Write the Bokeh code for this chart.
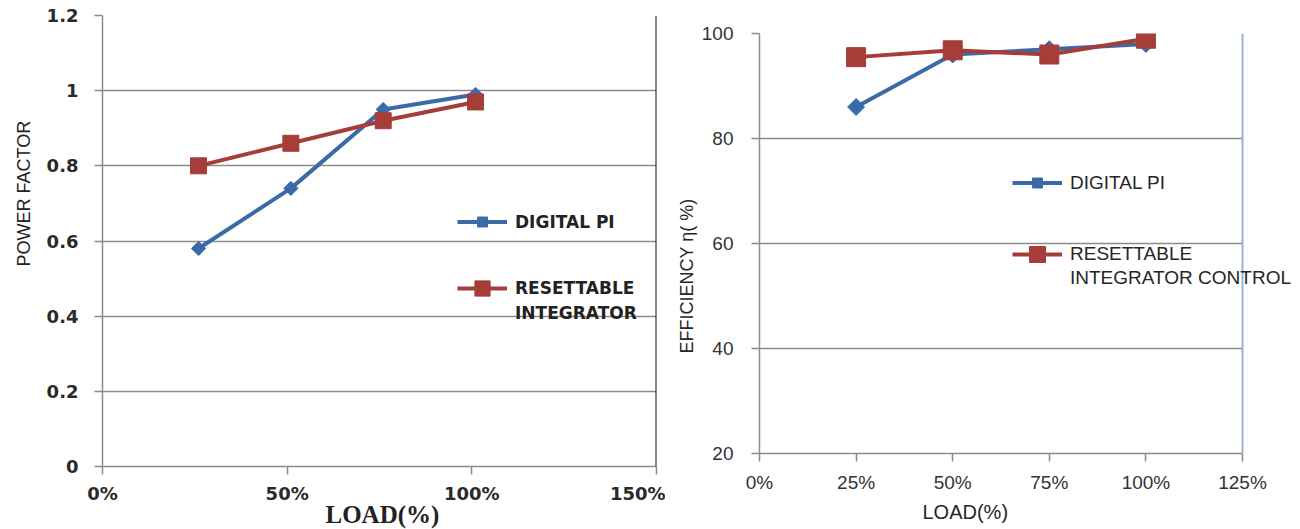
from bokeh.plotting import figure
from bokeh.models import FixedTicker, Span, Legend, LegendItem, Title
from bokeh.embed import file_html
from bokeh.resources import INLINE
import math

# ---- Power factor versus load ----
pf_load = [26, 51, 76, 101]
pf_digital_pi = [0.58, 0.74, 0.95, 0.99]
pf_resettable = [0.80, 0.86, 0.92, 0.97]
pf_x_ticks = [0, 50, 100, 150]
pf_x_labels = ["0%", "50%", "100%", "150%"]
pf_y_ticks = [0, 0.2, 0.4, 0.6, 0.8, 1.0, 1.2]
pf_y_labels = ["0", "0.2", "0.4", "0.6", "0.8", "1", "1.2"]

# ---- Efficiency versus load ----
eff_load = [25, 50, 75, 100]
eff_digital_pi = [86, 96, 97, 98]
eff_resettable = [95.5, 96.8, 96.0, 99.0]
eff_x_ticks = [0, 25, 50, 75, 100, 125]
eff_x_labels = ["0%", "25%", "50%", "75%", "100%", "125%"]
eff_y_ticks = [20, 40, 60, 80, 100]
eff_y_labels = ["20", "40", "60", "80", "100"]

BLUE = "#3b6ba7"
RED = "#a53d38"
GRID = "#8c8c8c"


def style_axes(p, xt, xl, yt, yl, font, size, weight, color, xstand, ystand):
    p.xaxis.ticker = FixedTicker(ticks=xt)
    p.yaxis.ticker = FixedTicker(ticks=yt)
    p.xaxis.major_label_overrides = dict(zip(xt, xl))
    p.yaxis.major_label_overrides = dict(zip(yt, yl))
    for ax in (p.xaxis[0], p.yaxis[0]):
        ax.axis_line_color = GRID
        ax.axis_line_width = 1.5
        ax.major_tick_line_color = GRID
        ax.major_tick_line_width = 1.5
        ax.major_tick_out = 8
        ax.major_tick_in = 0
        ax.minor_tick_line_color = None
        ax.major_label_text_font = font
        ax.major_label_text_font_size = size
        ax.major_label_text_font_style = weight
        ax.major_label_text_color = color
    p.xaxis.major_label_standoff = xstand
    p.yaxis.major_label_standoff = ystand
    p.xgrid.grid_line_color = None
    p.ygrid.grid_line_color = GRID
    p.ygrid.grid_line_width = 1.5
    p.outline_line_color = None


def axis_title(text, font, size, weight, color, standoff, offset, valign="bottom"):
    # align="left" starts the text `offset` px from the panel's start
    return Title(text=text, align="left", offset=offset, standoff=standoff,
                 vertical_align=valign,
                 text_font=font, text_font_size=size, text_font_style=weight,
                 text_color=color)


leg_kw = dict(padding=0, margin=0, border_line_color=None, background_fill_alpha=0,
              glyph_width=50, label_height=20, label_standoff=8)

# ================= left: power factor =================
p1 = figure(frame_width=554, frame_height=451, x_range=(0, 150), y_range=(0, 1.2),
            output_backend="svg", toolbar_location=None,
            min_border_left=102, min_border_right=9,
            min_border_top=15, min_border_bottom=63,
            background_fill_color="white", border_fill_color="white")
style_axes(p1, pf_x_ticks, pf_x_labels, pf_y_ticks, pf_y_labels,
           "DejaVu Sans", "18px", "bold", "#2a2a2a", 8, 16)
p1.add_layout(axis_title("POWER FACTOR", "Liberation Sans", "18px", "normal",
                         "#222222", 19, 200), "left")
p1.add_layout(axis_title("LOAD(%)", "Liberation Serif", "25px", "bold",
                         "#222222", -12, 223, valign="top"), "below")
p1.add_layout(Span(location=150, dimension="height", line_color="#111111", line_width=2))

l1 = p1.line(pf_load, pf_digital_pi, line_color=BLUE, line_width=4)
m1 = p1.scatter(pf_load, pf_digital_pi, marker="square", angle=math.pi / 4,
                size=10, fill_color=BLUE, line_color=BLUE)
l2 = p1.line(pf_load, pf_resettable, line_color=RED, line_width=4)
m2 = p1.scatter(pf_load, pf_resettable, marker="square", size=16,
                fill_color=RED, line_color=RED)

pf_font = dict(label_text_font="DejaVu Sans", label_text_font_size="17px",
               label_text_font_style="bold", label_text_color="#222222")
p1.add_layout(Legend(items=[LegendItem(label="DIGITAL PI", renderers=[l1, m1])],
                     location=(355, 232), glyph_height=25, **leg_kw, **pf_font))
p1.add_layout(Legend(items=[LegendItem(label="RESETTABLE", renderers=[l2, m2])],
                     location=(355, 159), glyph_height=38, **leg_kw, **pf_font))
p1.add_layout(Legend(items=[LegendItem(label="INTEGRATOR", renderers=[])],
                     location=(355, 141), glyph_height=24, **leg_kw, **pf_font))

# ================= right: efficiency =================
p2 = figure(frame_width=541, frame_height=420, x_range=(0, 140), y_range=(20, 100),
            output_backend="svg", toolbar_location=None,
            min_border_left=94, min_border_right=0,
            min_border_top=33, min_border_bottom=76,
            background_fill_color="white", border_fill_color="white")
style_axes(p2, eff_x_ticks, eff_x_labels, eff_y_ticks, eff_y_labels,
           "Liberation Sans", "19px", "normal", "#333333", 10, 18)
p2.xaxis.bounds = (0, 125)
if "cross_bounds" in p2.ygrid[0].properties():
    p2.ygrid.cross_bounds = (0, 125)
p2.add_layout(axis_title("EFFICIENCY  \u03b7( %)", "Liberation Sans", "18px", "normal",
                         "#262626", 4, 100), "left")
p2.add_layout(axis_title("LOAD(%)", "Liberation Sans", "20px", "normal",
                         "#262626", 6, 163), "below")
p2.add_layout(Span(location=125, dimension="height", line_color="#9ab4d8", line_width=2))

e1 = p2.line(eff_load, eff_digital_pi, line_color=BLUE, line_width=4)
n1 = p2.scatter(eff_load, eff_digital_pi, marker="square", angle=math.pi / 4,
                size=12, fill_color=BLUE, line_color=BLUE)
e2 = p2.line(eff_load, eff_resettable, line_color=RED, line_width=4)
n2 = p2.scatter(eff_load, eff_resettable, marker="square", size=19,
                fill_color=RED, line_color=RED)

eff_font = dict(label_text_font="Liberation Sans", label_text_font_size="19px",
                label_text_color="#262626")
p2.add_layout(Legend(items=[LegendItem(label="DIGITAL PI", renderers=[e1, n1])],
                     location=(253, 258), glyph_height=25, **leg_kw, **eff_font))
p2.add_layout(Legend(items=[LegendItem(label="RESETTABLE", renderers=[e2, n2])],
                     location=(253, 179), glyph_height=40, **leg_kw, **eff_font))
p2.add_layout(Legend(items=[LegendItem(label="INTEGRATOR CONTROL", renderers=[])],
                     location=(253, 163), glyph_height=24, **leg_kw, **eff_font))

# the two charts sit side by side, each keeping its own plot frame
side_by_side = ("{% block postamble %}<style>html, body { overflow: hidden; } "
                "body { display: flex !important; flex-direction: row; "
                "align-items: flex-start; }</style>{% endblock %}")
open("out.html", "w").write(file_html([p1, p2], INLINE, template=side_by_side))
